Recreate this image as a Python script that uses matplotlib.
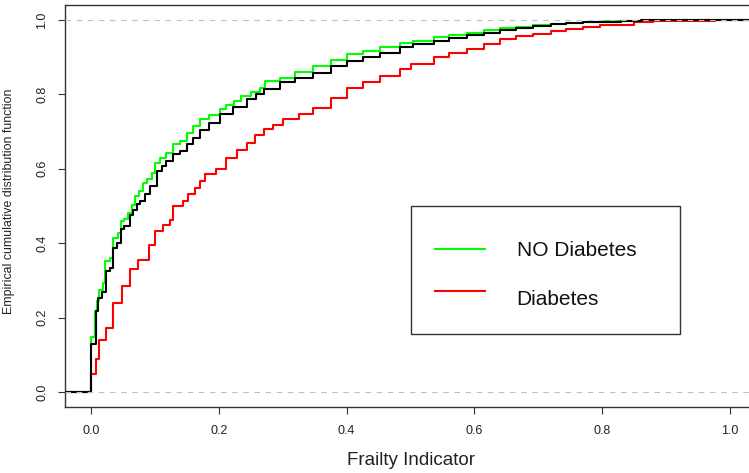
import matplotlib
matplotlib.use("Agg")
import matplotlib.pyplot as plt
from matplotlib.patches import Rectangle
from matplotlib.lines import Line2D

plt.rcParams['font.family'] = ['Liberation Sans', 'DejaVu Sans']

# ECDF knots (x = frailty indicator, y = cumulative proportion)
no_diab_x = [0.000, 0.0063, 0.0089, 0.013, 0.018, 0.022, 0.030, 0.034, 0.043, 0.047,
             0.052, 0.058, 0.064, 0.069, 0.075, 0.082, 0.088, 0.095, 0.100, 0.108,
             0.118, 0.129, 0.139, 0.150, 0.160, 0.171, 0.185, 0.202, 0.212, 0.223,
             0.235, 0.250, 0.264, 0.272, 0.296, 0.320, 0.348, 0.375, 0.400, 0.425,
             0.452, 0.484, 0.504, 0.536, 0.560, 0.588, 0.615, 0.640, 0.665, 0.692,
             0.720, 0.744, 0.770, 0.797, 0.830, 0.860]
no_diab_y = [0.147, 0.217, 0.244, 0.275, 0.293, 0.351, 0.360, 0.414, 0.428, 0.459,
             0.466, 0.482, 0.504, 0.526, 0.540, 0.562, 0.572, 0.589, 0.616, 0.630,
             0.643, 0.666, 0.674, 0.697, 0.715, 0.733, 0.745, 0.760, 0.770, 0.782,
             0.795, 0.805, 0.818, 0.836, 0.845, 0.860, 0.876, 0.892, 0.908, 0.916,
             0.926, 0.939, 0.944, 0.955, 0.960, 0.966, 0.972, 0.977, 0.982, 0.986,
             0.989, 0.991, 0.994, 0.996, 0.998, 1.000]

all_x = [0.000, 0.0073, 0.0115, 0.0166, 0.023, 0.029, 0.034, 0.041, 0.047, 0.052,
         0.061, 0.066, 0.072, 0.077, 0.085, 0.092, 0.103, 0.111, 0.118, 0.129,
         0.139, 0.150, 0.160, 0.171, 0.185, 0.202, 0.222, 0.244, 0.258, 0.270,
         0.296, 0.320, 0.348, 0.375, 0.400, 0.425, 0.452, 0.484, 0.504, 0.536,
         0.560, 0.588, 0.615, 0.640, 0.665, 0.692, 0.720, 0.744, 0.770, 0.797,
         0.830, 0.860]
all_y = [0.130, 0.217, 0.253, 0.268, 0.325, 0.333, 0.388, 0.400, 0.437, 0.446,
         0.477, 0.490, 0.505, 0.513, 0.531, 0.553, 0.594, 0.607, 0.621, 0.639,
         0.647, 0.666, 0.684, 0.703, 0.722, 0.746, 0.766, 0.787, 0.800, 0.815,
         0.832, 0.845, 0.858, 0.875, 0.890, 0.900, 0.912, 0.926, 0.935, 0.943,
         0.951, 0.959, 0.966, 0.973, 0.979, 0.984, 0.988, 0.991, 0.993, 0.995,
         0.998, 1.000]

diab_x = [0.000, 0.0078, 0.013, 0.023, 0.034, 0.048, 0.061, 0.074, 0.090, 0.100,
          0.113, 0.124, 0.129, 0.144, 0.152, 0.163, 0.171, 0.178, 0.195, 0.212,
          0.228, 0.244, 0.257, 0.270, 0.285, 0.301, 0.325, 0.348, 0.375, 0.400,
          0.425, 0.452, 0.484, 0.500, 0.536, 0.560, 0.588, 0.615, 0.640, 0.665,
          0.692, 0.720, 0.744, 0.770, 0.797, 0.850, 0.880, 0.977]
diab_y = [0.050, 0.088, 0.141, 0.172, 0.240, 0.285, 0.332, 0.356, 0.396, 0.432,
          0.450, 0.462, 0.499, 0.513, 0.531, 0.549, 0.567, 0.585, 0.600, 0.630,
          0.650, 0.670, 0.690, 0.706, 0.718, 0.733, 0.748, 0.764, 0.790, 0.818,
          0.833, 0.849, 0.867, 0.881, 0.899, 0.910, 0.921, 0.935, 0.948, 0.956,
          0.963, 0.969, 0.975, 0.981, 0.986, 0.993, 0.997, 1.000]

x_ticks = [0.0, 0.2, 0.4, 0.6, 0.8, 1.0]
y_ticks = [0.0, 0.2, 0.4, 0.6, 0.8, 1.0]
x_label = "Frailty Indicator"
y_label = "Empirical cumulative distribution function"
legend_labels = ["NO Diabetes", "Diabetes"]

W, H = 749, 473
fig = plt.figure(figsize=(W / 100, H / 100), dpi=100)
ax = fig.add_axes([65 / W, 1 - 407 / H, (756 - 65) / W, (407 - 5) / H])
xlim = (-0.0407, 1.0407)
ylim = (-0.04, 1.04)
ax.set_xlim(*xlim)
ax.set_ylim(*ylim)


def ecdf(xs, ys, color, z):
    px = [xlim[0] - 0.1] + xs + [xlim[1] + 0.1]
    py = [0.0] + ys + [1.0]
    ax.step(px, py, where='post', color=color, lw=1.5, zorder=z)


ecdf(no_diab_x, no_diab_y, '#00FF00', 2)
ecdf(diab_x, diab_y, '#FF0000', 3)
ecdf(all_x, all_y, 'black', 4)

for yv in (0.0, 1.0):
    ax.axhline(yv, color='#C0C0C0', lw=0.8, ls=(0, (5, 5)), zorder=5)

ax.set_xticks(x_ticks)
ax.set_yticks(y_ticks)
ax.set_xticklabels([f"{v:.1f}" for v in x_ticks])
ax.set_yticklabels([f"{v:.1f}" for v in y_ticks], rotation=90, va='center')
ax.tick_params(axis='both', direction='out', length=5, width=0.8,
               color='#333333', labelsize=9, labelcolor='#222222')
ax.tick_params(axis='x', pad=8)
ax.tick_params(axis='y', pad=7)
for s in ('left', 'bottom', 'top', 'right'):
    ax.spines[s].set_color('#333333')
    ax.spines[s].set_linewidth(1.0)

fig.text(411 / W, 1 - 460 / H, x_label, ha='center', va='center', fontsize=13.5, color='#222222')
fig.text(9 / W, 1 - 201.5 / H, y_label, ha='center', va='center', rotation=90,
         fontsize=8.9, color='#222222')

# legend box drawn in figure coordinates
fig.add_artist(Rectangle((410.7 / W, 1 - 334 / H), (680 - 410.7) / W, (334 - 206) / H,
                         transform=fig.transFigure, fill=False, edgecolor='#333333', lw=1.0))
fig.add_artist(Line2D([435 / W, 485 / W], [1 - 249 / H, 1 - 249 / H],
                      transform=fig.transFigure, color='#00FF00', lw=1.5))
fig.add_artist(Line2D([435 / W, 485 / W], [1 - 290.7 / H, 1 - 290.7 / H],
                      transform=fig.transFigure, color='#FF0000', lw=1.5))
fig.text(516.7 / W, 1 - 250 / H, legend_labels[0], ha='left', va='center', fontsize=15, color='#111111')
fig.text(516.7 / W, 1 - 299 / H, legend_labels[1], ha='left', va='center', fontsize=15, color='#111111')

fig.savefig("out.png", dpi=100)
